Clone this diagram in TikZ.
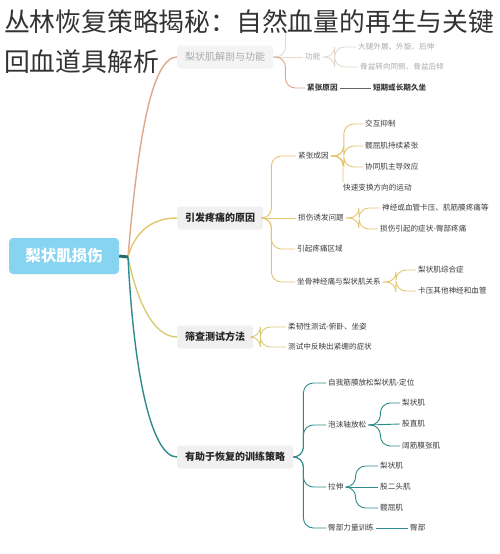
\documentclass[tikz,border=0pt]{standalone}
\usepackage{fontspec}
\setmainfont{Noto Sans CJK SC}
\usetikzlibrary{positioning}

\definecolor{rootblue}{HTML}{86D4F0}
\definecolor{boxgray}{HTML}{F0F0F0}
\definecolor{anatline}{HTML}{E6D9CD}
\definecolor{anatmain}{HTML}{DBA98B}
\definecolor{paingold}{HTML}{E4C46C}
\definecolor{testolive}{HTML}{D8CC76}
\definecolor{trainteal}{HTML}{2F8A8C}
\definecolor{leafgray}{HTML}{3C3C3C}
\definecolor{fadegray}{HTML}{ABABAB}

\tikzset{
  leaf/.style={anchor=west, inner sep=2pt, font=\fontsize{7.6}{9}\selectfont, text=leafgray},
  faded/.style={leaf, text=fadegray},
  branchbox/.style={anchor=west, fill=boxgray, rounded corners=3pt, inner xsep=8pt,
    minimum height=23pt, font=\fontsize{10}{12}\selectfont\bfseries, text=black!85},
}

\begin{document}
\begin{tikzpicture}[x=1pt, y=-1pt]
      \fill[white] (0,0) rectangle (500,554);
      \useasboundingbox (0,0) rectangle (500,554);
      \begin{scope}
        % root and the four main branches
        \node (root) [fill=rootblue, rounded corners=4pt, minimum width=110pt, minimum height=36pt,
          text=white, font=\fontsize{15.5}{18}\selectfont\bfseries] at (64,256) {梨状肌损伤};
        \coordinate (hub) at (128,257);
        \node (anat)[branchbox, fill=boxgray!70, text=fadegray, font=\fontsize{10}{12}\selectfont] at (177,57) {梨状肌解剖与功能};
        \node (pain)[branchbox] at (177,218) {引发疼痛的原因};
        \node (screen)[branchbox] at (177,337) {筛查测试方法};
        \node (train)[branchbox] at (177,457) {有助于恢复的训练策略};
      \end{scope}
      \begin{scope}
        % anatomy
        \coordinate (anattop) at (300,27);
        \node (func)[faded] at (303,57) {功能};
        \node (abd)[faded] at (356,47) {大腿外展、外旋、后伸};
        \node (pelv)[faded] at (358,67) {骨盆转向同侧、骨盆后倾};
        \node (tcause)[leaf, font=\fontsize{7.6}{9}\selectfont\bfseries] at (305,88) {紧张原因};
        \node (sit)[leaf, font=\fontsize{7.6}{9}\selectfont\bfseries] [right=31pt of tcause] {短期或长期久坐};
        % pain
        \node (tens)[leaf] at (296,156) {紧张成因};
        \node (recip)[leaf] at (363,124) {交互抑制};
        \node (hipflex)[leaf] at (363,146) {髋屈肌持续紧张};
        \node (syner)[leaf] at (363,167) {协同肌主导效应};
        \node (quick)[leaf] at (341,188) {快速变换方向的运动};
        \node (injury)[leaf] at (296,218) {损伤诱发问题};
        \node (nerve)[leaf] at (380,208) {神经或血管卡压、肌筋膜疼痛等};
        \node (buttock)[leaf] at (378,229) {损伤引起的症状-臀部疼痛};
        \node (area)[leaf] at (295,249) {引起疼痛区域};
        \node (sciat)[leaf] at (295,282) {坐骨神经痛与梨状肌关系};
        \node (pirisyn)[leaf] at (416,270) {梨状肌综合症};
        \node (compress)[leaf] at (416,291) {卡压其他神经和血管};
        % screening
        \node (flex)[leaf] at (286,327) {柔韧性测试-俯卧、坐姿};
        \node (tight)[leaf] at (286,347) {测试中反映出紧绷的症状};
        % training
        \node (selfmfr)[leaf] at (326,383) {自我筋膜放松梨状肌-定位};
        \node (foam)[leaf] at (326,425) {泡沫轴放松};
        \node (fpiri)[leaf] at (400,403) {梨状肌};
        \node (frect)[leaf] at (400,424) {股直肌};
        \node (ftfl)[leaf] at (400,446) {阔筋膜张肌};
        \node (stretch)[leaf] at (326,487) {拉伸};
        \node (spiri)[leaf] at (378,466) {梨状肌};
        \node (sbic)[leaf] at (378,487) {股二头肌};
        \node (sflex)[leaf] at (378,508) {髋屈肌};
        \node (glute)[leaf] at (326,528) {臀部力量训练};
        \node (gluteus)[leaf] at (408,528) {臀部};
      \end{scope}
      \begin{scope}[line width=1.4pt]
        \draw[anatmain] (hub) .. controls +(10,-120) and +(-25,0) .. (anat.west);
        \draw[paingold] (hub) .. controls +(8,-30) and +(-20,0) .. (pain.west);
        \draw[testolive] (hub) .. controls +(8,40) and +(-25,0) .. (screen.west);
        \draw[trainteal] (hub) .. controls +(6,120) and +(-25,0) .. (train.west);
        \draw[trainteal!80!black, line width=3pt] (root.east) -- (hub);
      \end{scope}
      \begin{scope}[rounded corners=10pt, line width=0.9pt]
        \draw[anatline] (anat.east) -- ++(12,0) |- (anattop);
        \draw[anatline] (anat.east) -- (func.west);
        \draw[anatmain] (anat.east) -- ++(12,0) |- (tcause.west);
        \draw[anatline] (func.east) -- ++(12,0) |- (abd.west);
        \draw[anatline] (func.east) -- ++(12,0) |- (pelv.west);
        \draw[black!60] (tcause.east) -- (sit.west);

        \draw[paingold] (pain.east) -- ++(8,0) |- (tens.west);
        \draw[paingold] (pain.east) -- (injury.west);
        \draw[paingold] (pain.east) -- ++(8,0) |- (area.west);
        \draw[paingold] (pain.east) -- ++(8,0) |- (sciat.west);
        \draw[paingold] (tens.east) -- ++(13,0) |- (recip.west);
        \draw[paingold] (tens.east) -- ++(13,0) |- (hipflex.west);
        \draw[paingold] (tens.east) -- ++(13,0) |- (syner.west);
        \draw[paingold] (tens.east) -| ([xshift=2pt]quick.north west);
        \draw[paingold] (injury.east) -- ++(13,0) |- (nerve.west);
        \draw[paingold] (injury.east) -- ++(13,0) |- (buttock.west);
        \draw[paingold] (sciat.east) -- ++(13,0) |- (pirisyn.west);
        \draw[paingold] (sciat.east) -- ++(13,0) |- (compress.west);

        \draw[testolive] (screen.east) -- ++(7,0) |- (flex.west);
        \draw[testolive] (screen.east) -- ++(7,0) |- (tight.west);

        \draw[trainteal] (train.east) -- ++(10,0) |- (selfmfr.west);
        \draw[trainteal] (train.east) -- ++(10,0) |- (foam.west);
        \draw[trainteal] (train.east) -- ++(10,0) |- (stretch.west);
        \draw[trainteal] (train.east) -- ++(10,0) |- (glute.west);
        \draw[trainteal] (foam.east) -- ++(12,0) |- (fpiri.west);
        \draw[trainteal] (foam.east) -- (frect.west);
        \draw[trainteal] (foam.east) -- ++(12,0) |- (ftfl.west);
        \draw[trainteal] (stretch.east) -- ++(10,0) |- (spiri.west);
        \draw[trainteal] (stretch.east) -- (sbic.west);
        \draw[trainteal] (stretch.east) -- ++(10,0) |- (sflex.west);
        \draw[trainteal] (glute.east) -- (gluteus.west);
      \end{scope}
      % title over the map
      \node (title1)[anchor=west, inner sep=0pt, text=black!80, font=\fontsize{25.8}{30}\selectfont] at (4,22) {丛林恢复策略揭秘：自然血量的再生与关键};
      \node (title2)[anchor=west, inner sep=0pt, text=black!80, font=\fontsize{25.8}{30}\selectfont] at (4,62) {回血道具解析};
    \end{tikzpicture}
\end{document}
